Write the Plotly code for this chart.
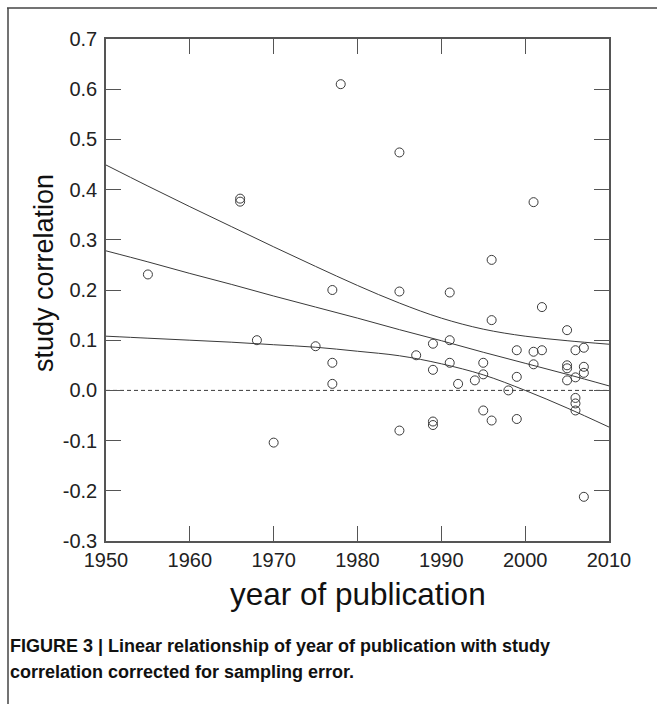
import plotly.graph_objects as go

# ---- data ----
pub_year = [1955, 1966, 1966, 1968, 1970, 1975, 1977, 1977, 1977, 1978,
            1985, 1985, 1985, 1987, 1989, 1989, 1989, 1989, 1991, 1991, 1991,
            1992, 1994, 1995, 1995, 1995, 1996, 1996, 1996, 1998,
            1999, 1999, 1999, 2001, 2001, 2001, 2002, 2002,
            2005, 2005, 2005, 2005, 2006, 2006, 2006, 2006, 2006,
            2007, 2007, 2007, 2007]
study_corr = [0.231, 0.382, 0.376, 0.100, -0.104, 0.088, 0.200, 0.055, 0.013, 0.610,
              0.474, 0.197, -0.080, 0.070, 0.093, 0.041, -0.062, -0.069, 0.195, 0.100, 0.055,
              0.013, 0.020, 0.055, 0.032, -0.040, 0.260, 0.140, -0.060, 0.000,
              0.080, 0.027, -0.057, 0.375, 0.077, 0.052, 0.166, 0.080,
              0.120, 0.050, 0.044, 0.020, 0.080, 0.026, -0.015, -0.026, -0.040,
              0.085, 0.047, 0.035, -0.212]

# regression line and confidence band, read at 5-year steps
fit_year = [1950, 1955, 1960, 1965, 1970, 1975, 1980, 1985, 1990, 1995, 2000, 2005, 2010]
fit_mid = [0.278, 0.256, 0.233, 0.211, 0.188, 0.166, 0.144, 0.121, 0.099, 0.076, 0.054, 0.032, 0.009]
fit_upper = [0.449, 0.407, 0.366, 0.326, 0.286, 0.247, 0.209, 0.174, 0.144, 0.122, 0.108, 0.099, 0.092]
fit_lower = [0.108, 0.104, 0.100, 0.096, 0.091, 0.086, 0.078, 0.069, 0.053, 0.031, 0.000, -0.035, -0.073]

zero_x = [1950, 2010]
zero_y = [0, 0]

x_ticks = [1950, 1960, 1970, 1980, 1990, 2000, 2010]
x_tick_labels = ["1950", "1960", "1970", "1980", "1990", "2000", "2010"]
y_ticks = [-0.3, -0.2, -0.1, 0.0, 0.1, 0.2, 0.3, 0.4, 0.5, 0.6, 0.7]
y_tick_labels = ["-0.3", "-0.2", "-0.1", "0.0", "0.1", "0.2", "0.3", "0.4", "0.5", "0.6", "0.7"]

x_title = "year of publication"
y_title = "study correlation"
caption_1 = "FIGURE 3 | Linear relationship of year of publication with study"
caption_2 = "correlation corrected for sampling error."

LINE = "#3a3a3a"
AX = "#555555"
FONT = "Liberation Sans, Arial, Helvetica, sans-serif"
CAP_FONT = "Liberation Sans, Arial, Helvetica, sans-serif"

fig = go.Figure()
fig.add_trace(go.Scatter(x=zero_x, y=zero_y, mode="lines",
                         line=dict(color=LINE, width=1, dash="4px,3px"),
                         hoverinfo="skip", showlegend=False))
for ys in (fit_upper, fit_mid, fit_lower):
    fig.add_trace(go.Scatter(x=fit_year, y=ys, mode="lines",
                             line=dict(color=LINE, width=1, shape="spline", smoothing=1.0),
                             showlegend=False))
fig.add_trace(go.Scatter(x=pub_year, y=study_corr, mode="markers",
                         marker=dict(symbol="circle-open", size=9, color=LINE,
                                     line=dict(width=1, color=LINE)),
                         showlegend=False))

axis_common = dict(showline=True, linecolor=AX, linewidth=1.5, mirror="ticks",
                   ticks="inside", ticklen=15, tickwidth=1.2, tickcolor=AX,
                   showgrid=False, zeroline=False,
                   tickfont=dict(family=FONT, size=20, color="#222222"))

fig.update_xaxes(range=[1950, 2010], tickvals=x_ticks, ticktext=x_tick_labels, **axis_common)
fig.update_yaxes(range=[-0.3, 0.7], tickvals=y_ticks, ticktext=y_tick_labels,
                 ticklabelstandoff=3, **axis_common)

L, R, T, B = 106, 48, 39, 163
W, H = 657, 704
pw, ph = W - L - R, H - T - B

def px_x(px):
    return (px - L) / pw

def px_y(py):
    return 1 - (py - T) / ph

annotations = [
    dict(text=y_title, x=px_x(44), y=px_y(273), xref="paper", yref="paper",
         textangle=-90, showarrow=False, xanchor="center", yanchor="middle",
         font=dict(family=FONT, size=27, color="#111111")),
    dict(text=x_title, x=px_x(358), y=px_y(594), xref="paper", yref="paper",
         showarrow=False, xanchor="center", yanchor="middle",
         font=dict(family=FONT, size=31.5, color="#111111")),
    dict(text="<b>" + caption_1 + "</b>", x=px_x(8), y=px_y(646), xref="paper", yref="paper",
         showarrow=False, xanchor="left", yanchor="middle",
         font=dict(family=CAP_FONT, size=18, color="#111111")),
    dict(text="<b>" + caption_2 + "</b>", x=px_x(8), y=px_y(672), xref="paper", yref="paper",
         showarrow=False, xanchor="left", yanchor="middle",
         font=dict(family=CAP_FONT, size=18, color="#111111")),
]

shapes = [
    dict(type="line", xref="paper", yref="paper", x0=px_x(7), x1=px_x(660),
         y0=px_y(8), y1=px_y(8), line=dict(color="#444444", width=1.5)),
    dict(type="line", xref="paper", yref="paper", x0=px_x(8), x1=px_x(8),
         y0=px_y(8), y1=px_y(710), line=dict(color="#444444", width=1.5)),
]

fig.update_layout(width=W, height=H, margin=dict(l=L, r=R, t=T, b=B, autoexpand=False),
                  paper_bgcolor="white", plot_bgcolor="white",
                  annotations=annotations, shapes=shapes)

fig.write_html("out.html")
